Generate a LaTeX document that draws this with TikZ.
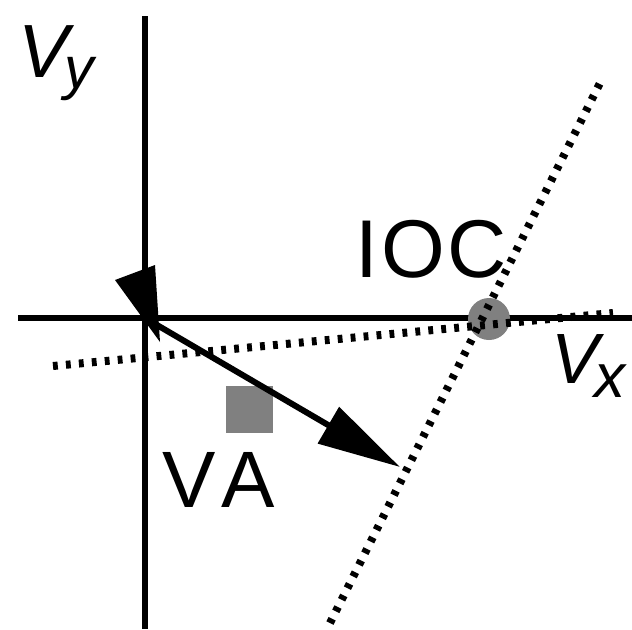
\documentclass[tikz,border=0pt]{standalone}
\usepackage{fontspec}
\setmainfont{Liberation Sans}
\usetikzlibrary{arrows.meta}
\begin{document}
\begin{tikzpicture}[x=0.5pt,y=-0.5pt,
  axis/.style={line width=2.6pt},
  dotline/.style={line width=4pt, dash pattern=on 2.4pt off 4.1pt},
  graymark/.style={fill=black!50, draw=none, inner sep=0pt},
  lbl/.style={inner sep=0pt, anchor=base west}]
\useasboundingbox (0,0) rectangle (632,629);
% axes
\coordinate (O) at (145,318);
\coordinate (ytop) at (145,16);
\coordinate (ybot) at (145,629);
\coordinate (xl) at (18,318);
\coordinate (xr) at (632,318);
\draw[axis] (ytop) -- (ybot);
\draw[axis] (xl) -- (xr);
% IOC point
\node[graymark, circle, minimum size=21pt] (ioc) at (489,319) {};
% VA square
\node[graymark, rectangle, minimum size=23.5pt] (va) at (249.5,409) {};
% dotted constraint lines
\coordinate (d1a) at (53,366);
\coordinate (d1b) at (613,313);
\coordinate (d2a) at (330,623);
\coordinate (d2b) at (600,83);
\draw[dotline] (d1a) -- (d1b);
\draw[dotline] (d2a) -- (d2b);
% small arrowhead at origin
\coordinate (h1) at (115,280);
\coordinate (h2) at (155,265);
\coordinate (h3) at (160,342);
\fill (h1) -- (h2) -- (h3) -- cycle;
% main vector
\coordinate (T) at (400,467);
\draw[line width=3pt, -{Triangle[length=41.5pt,width=20.5pt]}] (O) -- (T);
% labels
\node[lbl, font=\fontsize{37.7}{40}\selectfont\itshape] (vyV) at (18,77) {V};
\node[lbl, font=\fontsize{29.5}{30}\selectfont\itshape] (vyy) at (64,88) {y};
\node[lbl, font=\fontsize{35.6}{38}\selectfont\itshape] (vxV) at (551,383) {V};
\node[lbl, font=\fontsize{31}{32}\selectfont\itshape] (vxx) at (594,397) {x};
\node[lbl, font=\fontsize{41}{44}\selectfont] (ioclbl) at (355,277) {I\kern1.5pt O\kern1.5pt C};
\node[lbl, font=\fontsize{40}{42}\selectfont] (valbl) at (162,507) {V\kern3pt A};
\end{tikzpicture}
\end{document}
